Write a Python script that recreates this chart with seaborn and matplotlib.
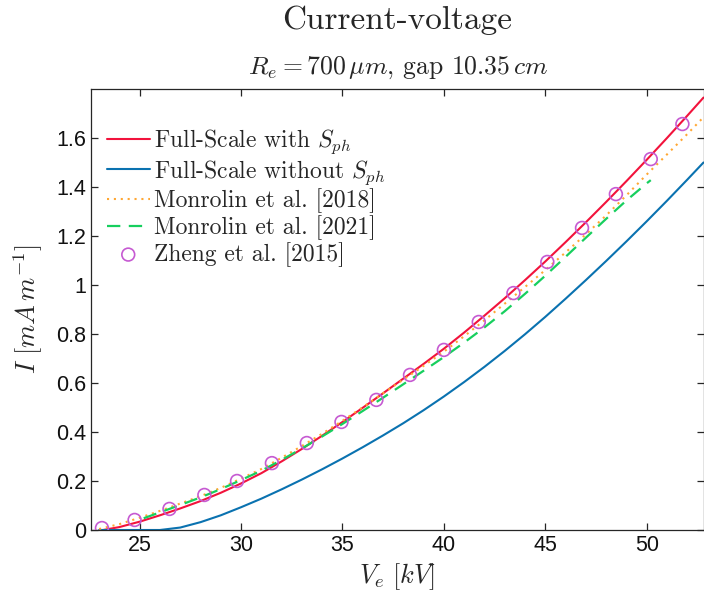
import matplotlib
matplotlib.use("Agg")
import matplotlib.pyplot as plt
import seaborn as sns

# ---- data ----
red_V = [23.2, 24, 25, 26, 27, 28, 29, 30, 31, 32, 33, 34, 35, 36, 37, 38, 39, 40,
         41, 42, 43, 44, 45, 46, 47, 48, 49, 50, 51, 52, 52.8]
red_I = [0.0, 0.012, 0.034, 0.06, 0.088, 0.118, 0.152, 0.19, 0.232, 0.28, 0.331, 0.385,
         0.441, 0.499, 0.558, 0.618, 0.678, 0.74, 0.806, 0.875, 0.946, 1.02, 1.096,
         1.175, 1.256, 1.339, 1.424, 1.511, 1.60, 1.691, 1.765]

blue_V = [23.0, 24, 25, 26, 27, 28, 29, 30, 31, 32, 33, 34, 35, 36, 37, 38, 39, 40,
          41, 42, 43, 44, 45, 46, 47, 48, 49, 50, 51, 52, 52.8]
blue_I = [0.0, 0.0, 0.0, 0.0, 0.01, 0.032, 0.06, 0.093, 0.128, 0.166, 0.206, 0.248,
          0.292, 0.338, 0.386, 0.436, 0.489, 0.545, 0.604, 0.666, 0.731, 0.799, 0.87,
          0.944, 1.02, 1.098, 1.178, 1.26, 1.344, 1.43, 1.50]

orange_V = [23.0, 24, 25, 26, 27, 28, 29, 30, 31, 32, 33, 34, 35, 36, 37, 38, 39, 40,
            41, 42, 43, 44, 45, 46, 47, 48, 49, 50, 51, 52, 52.8]
orange_I = [0.004, 0.024, 0.05, 0.078, 0.108, 0.138, 0.172, 0.21, 0.249, 0.295, 0.343,
            0.393, 0.446, 0.501, 0.558, 0.614, 0.67, 0.728, 0.791, 0.856, 0.924, 0.992,
            1.061, 1.133, 1.207, 1.284, 1.366, 1.451, 1.533, 1.616, 1.685]

green_V = [25.2, 26, 27, 28, 29, 30, 31, 32, 33, 34, 35, 36, 37, 38, 39, 40, 41, 42,
           43, 44, 45, 46, 47, 48, 49, 50, 50.2]
green_I = [0.048, 0.072, 0.102, 0.133, 0.167, 0.204, 0.242, 0.286, 0.333, 0.382, 0.433,
           0.486, 0.54, 0.595, 0.65, 0.706, 0.765, 0.827, 0.893, 0.964, 1.038, 1.115,
           1.193, 1.27, 1.345, 1.415, 1.428]

zheng_V = [23.14, 24.75, 26.47, 28.19, 29.80, 31.52, 33.24, 34.95, 36.67, 38.33,
           40.0, 41.72, 43.43, 45.1, 46.81, 48.48, 50.2, 51.76]
zheng_I = [0.008, 0.041, 0.086, 0.143, 0.2, 0.273, 0.355, 0.441, 0.531, 0.633,
           0.735, 0.849, 0.967, 1.094, 1.233, 1.371, 1.514, 1.657]

labels = [r"Full-Scale with $S_{ph}$", r"Full-Scale without $S_{ph}$",
          "Monrolin et al. [2018]", "Monrolin et al. [2021]", "Zheng et al. [2015]"]
x_ticks = [25, 30, 35, 40, 45, 50]
y_ticks = [0, 0.2, 0.4, 0.6, 0.8, 1.0, 1.2, 1.4, 1.6]
y_ticklabels = ["0", "0.2", "0.4", "0.6", "0.8", "1", "1.2", "1.4", "1.6"]

sns.set_theme(style="ticks")
plt.rcParams["mathtext.fontset"] = "cm"
plt.rcParams["font.family"] = ["Liberation Sans", "DejaVu Sans"]
plt.rcParams["axes.unicode_minus"] = False

c_red = "#f2133c"
c_blue = "#0a72b0"
c_orange = "#ffa733"
c_green = "#17cf5e"
c_purple = "#c65ad2"

fig = plt.figure(figsize=(7.04, 5.94), dpi=100)
ax = fig.add_axes([91 / 704, 64 / 594, 612.5 / 704, 441 / 594])

serif = ["cmr10", "DejaVu Serif"]

sns.lineplot(x=red_V, y=red_I, ax=ax, color=c_red, lw=1.5, label=labels[0])
sns.lineplot(x=blue_V, y=blue_I, ax=ax, color=c_blue, lw=1.5, label=labels[1])
sns.lineplot(x=orange_V, y=orange_I, ax=ax, color=c_orange, lw=1.5, label=labels[2])
sns.lineplot(x=green_V, y=green_I, ax=ax, color=c_green, lw=1.6, label=labels[3])
sns.scatterplot(x=zheng_V, y=zheng_I, ax=ax, marker="o", s=85, facecolor="none",
                edgecolor=c_purple, linewidth=1.2, label=labels[4], zorder=5)
ax.lines[2].set_linestyle((0, (1, 2.3)))
ax.lines[3].set_linestyle((0, (6.0, 3.8)))

ax.set_xlim(22.6, 52.8)
ax.set_ylim(0, 1.8)
ax.set_xticks(x_ticks)
ax.set_yticks(y_ticks)
ax.set_yticklabels(y_ticklabels)
ax.tick_params(direction="in", top=True, right=True, length=5, width=0.9,
               labelsize=15.5, colors="#262626", labelcolor="#111111")
for sp in ax.spines.values():
    sp.set_visible(True)
    sp.set_color("#262626")
    sp.set_linewidth(0.9)

ax.set_xlabel(r"$V_e\ [kV]$", fontsize=19, labelpad=4)
ax.set_ylabel(r"$I\ [mA\,m^{-1}]$", fontsize=19, labelpad=8)

fig.text(0.564, 0.966, "Current-voltage", ha="center", va="center",
         fontsize=24, family=serif)
fig.text(0.566, 0.886, r"$R_e = 700\,\mu m$, gap $10.35\,cm$", ha="center",
         va="center", fontsize=18.5, family=serif)

leg = ax.legend(loc="upper left", bbox_to_anchor=(16 / 612.5, 0.912), frameon=False,
                prop={"family": serif, "size": 17}, handlelength=1.8,
                handletextpad=0.18, labelspacing=0.08, borderaxespad=0.0,
                borderpad=0.0)

fig.savefig("out.png", dpi=100)
